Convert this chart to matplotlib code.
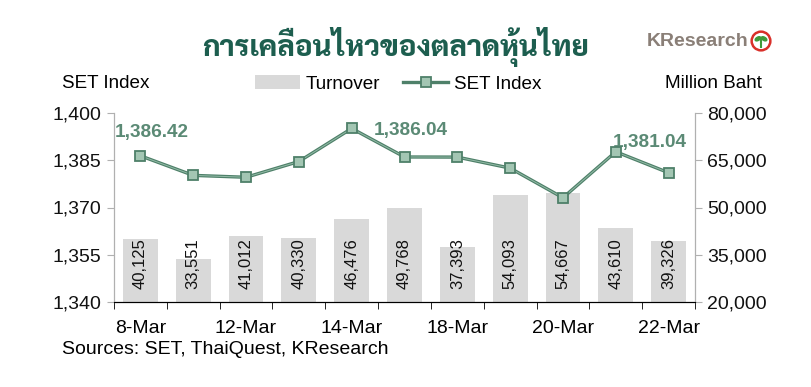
import matplotlib
matplotlib.use("Agg")
import matplotlib.pyplot as plt
from matplotlib.patches import Circle, Ellipse
from matplotlib.lines import Line2D
from matplotlib.patches import Patch
import numpy as np

dates = ["8-Mar", "11-Mar", "12-Mar", "13-Mar", "14-Mar", "15-Mar",
         "18-Mar", "19-Mar", "20-Mar", "21-Mar", "22-Mar"]
turnover = [40125, 33551, 41012, 40330, 46476, 49768, 37393, 54093, 54667, 43610, 39326]
set_index = [1386.42, 1380.2, 1379.6, 1384.6, 1395.1, 1386.04,
             1386.0, 1382.5, 1373.1, 1387.7, 1381.04]
shown_labels = [0, 5, 10]
left_ticks = [1340, 1355, 1370, 1385, 1400]
right_ticks = [20000, 35000, 50000, 65000, 80000]

plt.rcParams['font.family'] = ['Liberation Sans', 'DejaVu Sans']

dark = "#4e8069"
light = "#a3c6b3"
title_col = "#1d5e4f"

fig = plt.figure(figsize=(8.11, 3.87), dpi=100)
ax = fig.add_axes([114 / 811, 1 - 302 / 387, 581 / 811, 189 / 387])
ax2 = ax.twinx()
# bars on ax (right scale), line on ax2 so it sits on top
x = np.arange(len(dates))
ax.bar(x, turnover, width=0.66, color="#d9d9d9", zorder=1)
ax.set_ylim(20000, 80000)
for xi, v in zip(x, turnover):
    ax.text(xi, 24000, f"{v:,}", rotation=90, ha="center", va="bottom",
            fontsize=12, color="#111111")

ax2.plot(x, set_index, color=dark, lw=2.4, zorder=3)
ax2.plot(x, set_index, color="#93bba7", lw=0.7, zorder=4)
ax2.plot(x, set_index, ls="none", marker="s", ms=7, mfc=light, mec=dark, mew=1.3, zorder=5)
ax2.set_ylim(1340, 1400)

offsets = {0: (0.22, 7.5), 5: (0.12, 8.5), 10: (-0.35, 9.5)}
for i in shown_labels:
    dx, dy = offsets[i]
    ax2.text(x[i] + dx, set_index[i] + dy, f"{set_index[i]:,.2f}", ha="center", va="center",
             fontsize=13.7, fontweight="bold", color="#5b8a75")

ax.set_xlim(-0.5, len(dates) - 0.5)

# turnover scale on the right, index scale on the left
ax.yaxis.tick_right()
ax2.yaxis.tick_left()
ax.set_yticks(right_ticks)
ax.set_yticklabels([f"{t:,}" for t in right_ticks])
ax2.set_yticks(left_ticks)
ax2.set_yticklabels([f"{t:,}" for t in left_ticks])

for a in (ax, ax2):
    a.spines["top"].set_visible(False)
    a.spines["left"].set_color("#b0b0b0")
    a.spines["right"].set_color("#b0b0b0")
    a.spines["bottom"].set_color("#000000")
    a.tick_params(axis="y", colors="#b0b0b0", labelcolor="#111111", labelsize=14,
                  length=5, pad=4)

ax.set_xticks(x[::2])
ax.set_xticklabels(dates[::2], fontsize=14)
ax.set_xticks(np.arange(-0.5, len(dates), 1), minor=True)
ax.tick_params(axis="x", which="major", length=0, pad=13)
ax.tick_params(axis="x", which="minor", length=5, color="#000000")

# axis titles
fig.text(62 / 811, 1 - 84 / 387, "SET Index", fontsize=13.6, va="center", ha="left")
fig.text(762 / 811, 1 - 84 / 387, "Million Baht", fontsize=13.6, va="center", ha="right")

handles = [Patch(facecolor="#d9d9d9", edgecolor="none"),
           Line2D([0], [0], color=dark, lw=2.4, marker="s", ms=7, mfc=light, mec=dark, mew=1.3)]
fig.legend(handles, ["Turnover", "SET Index"], loc="center", bbox_to_anchor=(398 / 811, 1 - 84 / 387),
           ncol=2, frameon=False, fontsize=13.6, handlelength=2.4, columnspacing=1.2,
           handletextpad=0.3)

# title
fig.text(396 / 811, 1 - 47 / 387, "การเคลื่อนไหวของตลาดหุ้นไทย", ha="center", va="center",
         fontsize=21, fontweight="heavy", color=title_col, family=["Sarabun", "DejaVu Sans"])

# logo
fig.text(698 / 811, 1 - 41 / 387, "KResearch", ha="center", va="center", fontsize=14,
         fontweight="bold", color="#8a7f77")
lax = fig.add_axes([750 / 811, 1 - 52 / 387, 22 / 811, 22 / 387])
lax.set_xlim(-1, 1)
lax.set_ylim(-1, 1)
lax.set_aspect("equal")
lax.axis("off")
lax.add_patch(Circle((0, 0), 0.85, facecolor="white", edgecolor="#d9302a", lw=1.8))
lax.add_patch(Ellipse((-0.28, 0.2), 0.55, 0.3, angle=30, color="#3f9a3a"))
lax.add_patch(Ellipse((0.28, 0.2), 0.55, 0.3, angle=-30, color="#3f9a3a"))
lax.plot([0, 0], [-0.5, 0.15], color="#3f9a3a", lw=1.5)

fig.text(62 / 811, 1 - 350 / 387, "Sources: SET, ThaiQuest, KResearch", fontsize=14,
         va="center", ha="left")

fig.savefig("out.png", dpi=100, facecolor="white")
